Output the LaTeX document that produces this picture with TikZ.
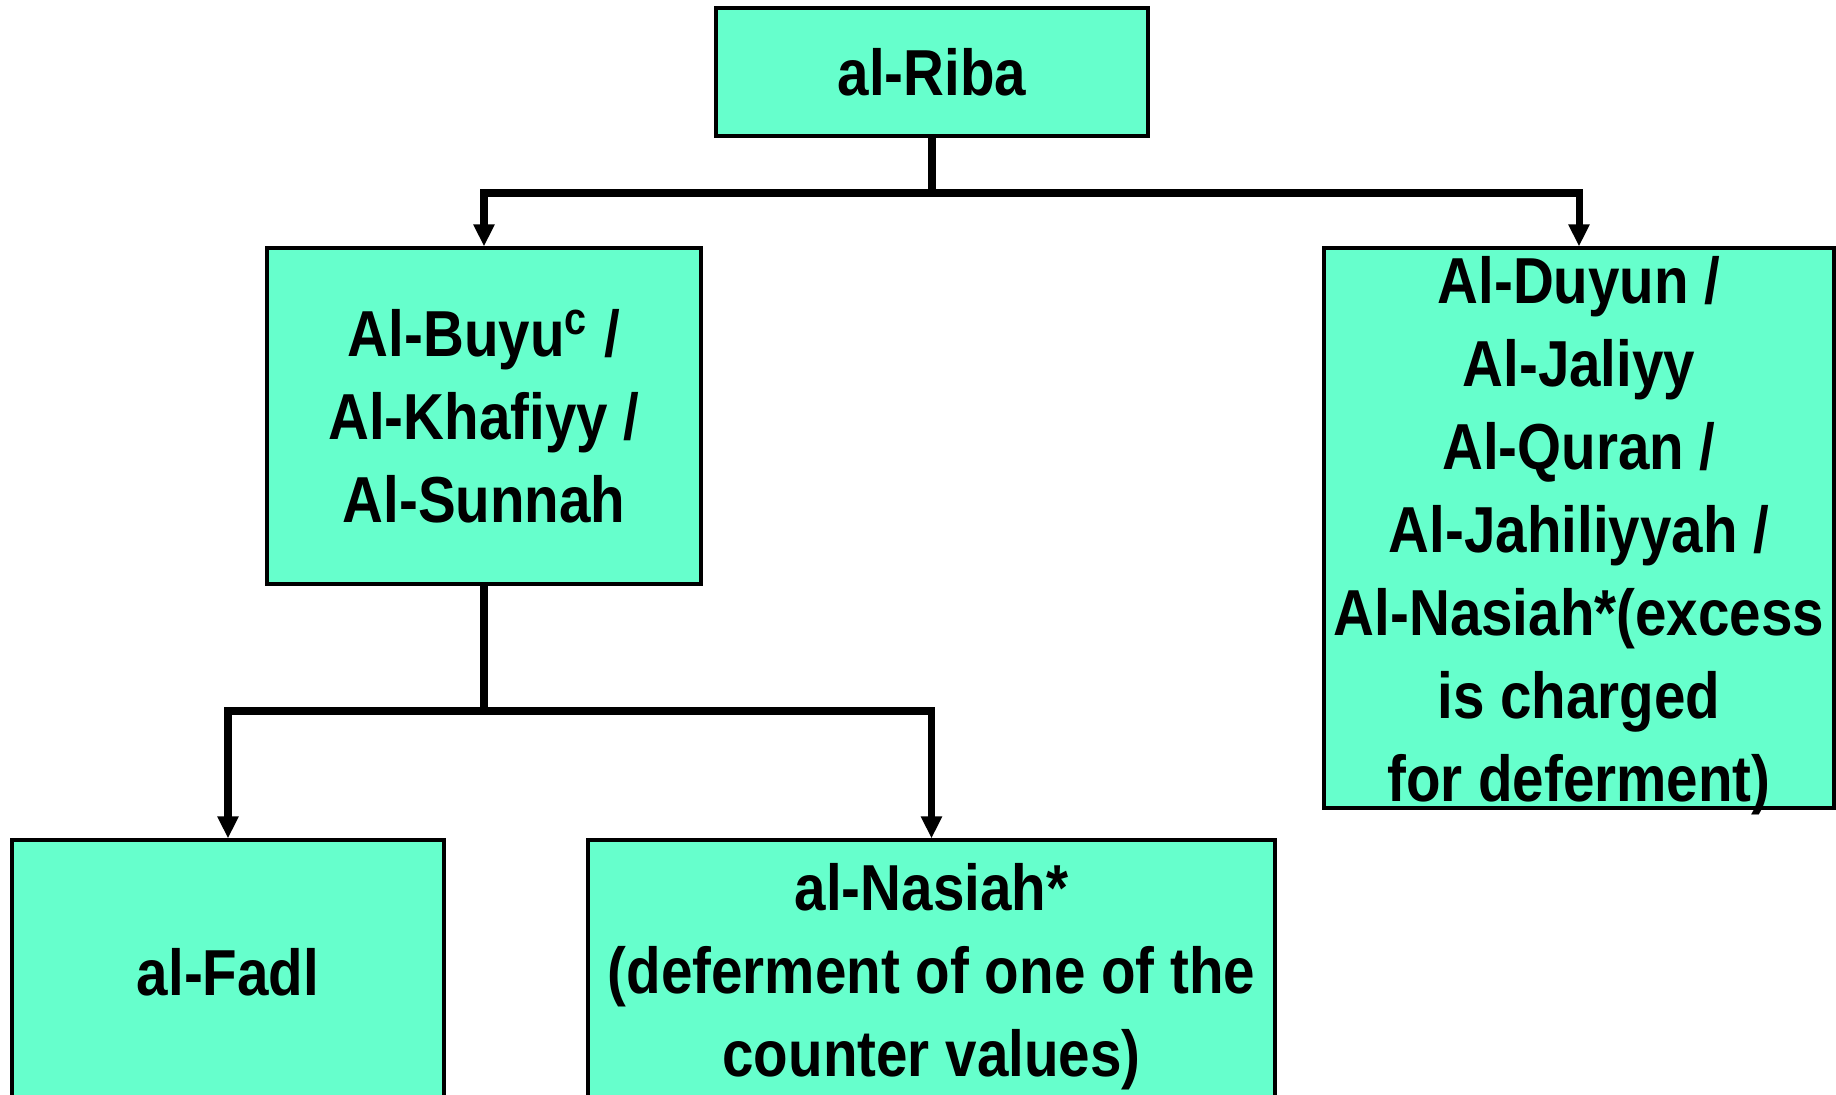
\documentclass[tikz,border=0pt]{standalone}
\usepackage{fontspec}
\usepackage{xcolor}
\usepackage{tikz}
\usetikzlibrary{shapes.geometric, arrows.meta}
\newfontfamily\boxfont[FakeStretch=0.87]{Liberation Sans}
\definecolor{ribagreen}{RGB}{102,255,204}
\tikzstyle{box} = [rectangle, 
draw=black, 
line width=0.9pt,
fill=ribagreen,
text centered, 
align=center,
inner sep=0pt,
font=\boxfont\bfseries\fontsize{18.5}{23.6}\selectfont]
\tikzstyle{boxtext} = [align=center, 
inner sep=0pt,
font=\boxfont\bfseries\fontsize{18.5}{23.6}\selectfont]
\tikzstyle{line} = [line width=2pt]
\tikzstyle{arrow} = [line width=2pt,-{Triangle[width=0.2cm,length=0.22cm]}]

\begin{document}
\begin{tikzpicture}
\useasboundingbox (0,0) rectangle (18.36,-10.94);
\clip (0,0) rectangle (18.36,-10.94);
\node (riba) [box, minimum width=4.32cm, minimum height=1.28cm] at (9.32,-0.72) {al-Riba};
\node (buyu) [box, minimum width=4.34cm, minimum height=3.36cm] at (4.84,-4.16) {Al-Buyu\textsuperscript{c} /\\Al-Khafiyy /\\Al-Sunnah};
\node (duyun) [box, minimum width=5.1cm, minimum height=5.6cm] at (15.79,-5.28) {};
% text sits lower than the box centre and runs past its bottom
\node (duyuntext) [boxtext] at (15.79,-5.36) {Al-Duyun /\\Al-Jaliyy\\Al-Quran /\\Al-Jahiliyyah /\\Al-Nasiah*(excess\\is charged\\for deferment)};
\node (fadl) [box, minimum width=4.32cm, minimum height=2.64cm] at (2.28,-9.72) {al-Fadl};
\node (nasiah) [box, minimum width=6.87cm, minimum height=2.74cm] at (9.315,-9.77) {al-Nasiah*\\(deferment of one of the\\counter values)};

\coordinate (ribasplit) at (9.32,-1.93);
\coordinate (buyusplit) at (4.84,-7.11);

\draw [line] (riba.south) -- (ribasplit);
\draw [arrow] (ribasplit) -| (buyu.north);
\draw [arrow] (ribasplit) -| (duyun.north);
\draw [line] (buyu.south) -- (buyusplit);
\draw [arrow] (buyusplit) -| (fadl.north);
\draw [arrow] (buyusplit) -| (nasiah.north);
\end{tikzpicture}
\end{document}
